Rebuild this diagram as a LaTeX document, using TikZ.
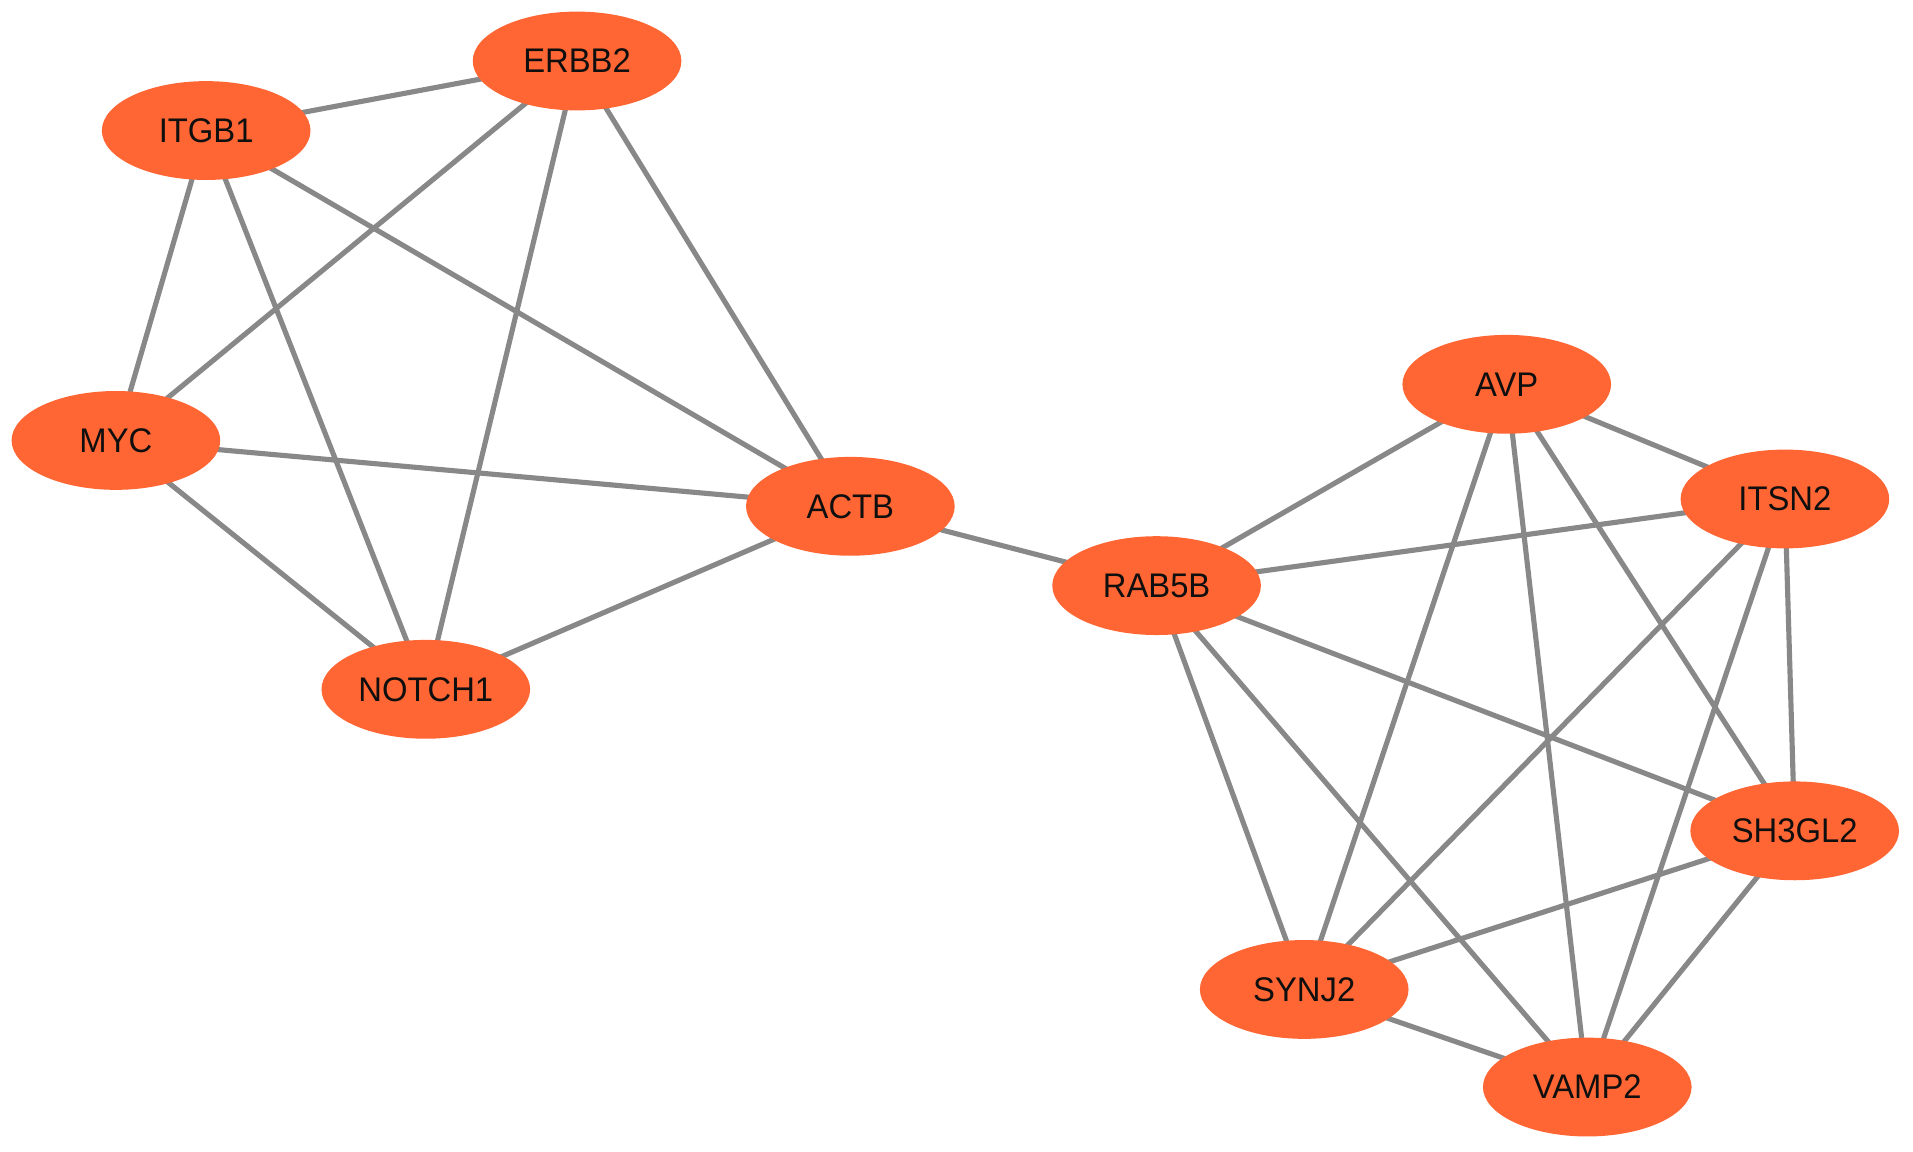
\documentclass[tikz,border=0pt]{standalone}
\usepackage{graphicx}
\usepackage{fontspec}
\setmainfont{Liberation Sans}
\usetikzlibrary{shapes.geometric,backgrounds}
\definecolor{nodeorange}{RGB}{255,102,51}
\definecolor{edgegray}{RGB}{136,136,136}
\definecolor{labeltext}{RGB}{15,15,15}
\newcommand{\genelabel}[1]{\scalebox{0.96}[1]{#1}}
\tikzset{
  gene/.style={ellipse, fill=nodeorange, draw=none, minimum width=171pt, minimum height=81pt, inner sep=0pt,
    font=\fontsize{28pt}{32pt}\selectfont, text=labeltext},
  link/.style={draw=edgegray, line width=4.2pt}
}
\begin{document}
\begin{tikzpicture}[x=1pt,y=-1pt]
\useasboundingbox (0,0) rectangle (1568,944);
\node[gene] (ERBB2) at (473,50) {\genelabel{ERBB2}};
\node[gene] (ITGB1) at (169,107) {\genelabel{ITGB1}};
\node[gene] (MYC) at (95,361) {\genelabel{MYC}};
\node[gene] (ACTB) at (697,415) {\genelabel{ACTB}};
\node[gene] (NOTCH1) at (349,565) {\genelabel{NOTCH1}};
\node[gene] (AVP) at (1235,315) {\genelabel{AVP}};
\node[gene] (ITSN2) at (1463,409) {\genelabel{ITSN2}};
\node[gene] (RAB5B) at (948,480) {\genelabel{RAB5B}};
\node[gene] (SH3GL2) at (1471,681) {\genelabel{SH3GL2}};
\node[gene] (SYNJ2) at (1069,811) {\genelabel{SYNJ2}};
\node[gene] (VAMP2) at (1301,891) {\genelabel{VAMP2}};
\begin{scope}[on background layer]
\foreach \a/\b in {ITGB1/ERBB2, ITGB1/MYC, ITGB1/NOTCH1, ITGB1/ACTB, ERBB2/MYC, ERBB2/NOTCH1, ERBB2/ACTB,
  MYC/ACTB, MYC/NOTCH1, NOTCH1/ACTB, ACTB/RAB5B,
  RAB5B/AVP, RAB5B/ITSN2, RAB5B/SH3GL2, RAB5B/SYNJ2, RAB5B/VAMP2,
  AVP/ITSN2, AVP/SYNJ2, AVP/VAMP2, AVP/SH3GL2,
  ITSN2/SYNJ2, ITSN2/VAMP2, ITSN2/SH3GL2,
  SH3GL2/SYNJ2, SH3GL2/VAMP2, SYNJ2/VAMP2}
  \draw[link] (\a.center) -- (\b.center);
\end{scope}
\end{tikzpicture}
\end{document}
